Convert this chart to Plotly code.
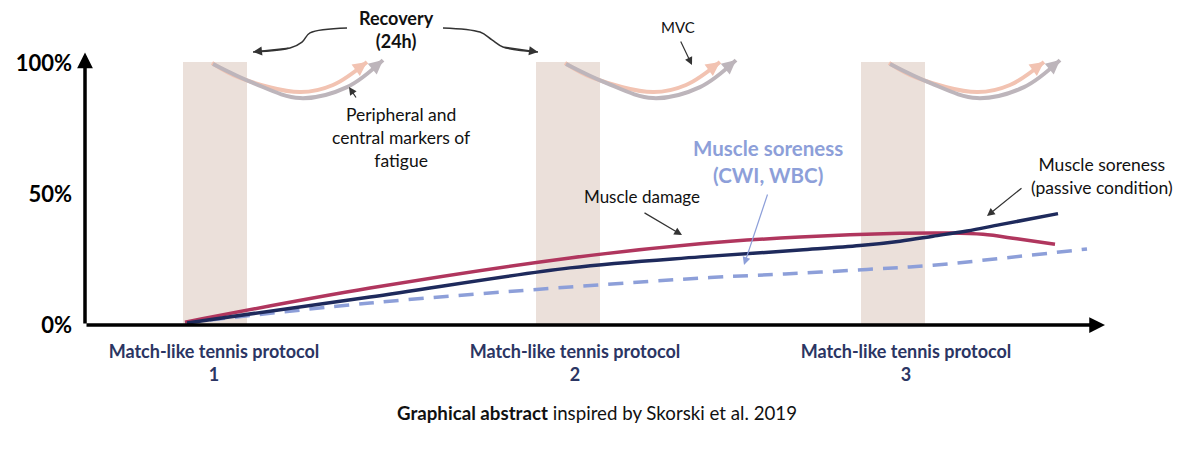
import plotly.graph_objects as go

# ---------------- data (x in time units along the protocol, y in % of baseline) -------------
damage_x = [100, 285, 485, 615, 715, 815, 865, 898, 932, 970]
damage_y = [1.1, 14.1, 25.6, 31.0, 33.6, 35.0, 35.1, 34.6, 32.9, 30.8]

passive_x = [102, 285, 485, 615, 715, 775, 815, 848, 882, 915, 973]
passive_y = [0.8, 10.7, 21.8, 26.0, 28.6, 30.3, 32.0, 33.9, 35.9, 38.3, 42.5]

cwi_x = [100, 285, 485, 625, 700, 782, 848, 915, 1002]
cwi_y = [0.8, 8.4, 14.5, 18.1, 19.5, 21.2, 22.8, 25.4, 29.0]

# shaded protocol sessions
session_x = [130, 483, 807.5]
session_h = [100.4, 100.4, 100.4]
session_w = 64
session_left = [98, 451, 775]

# MVC / fatigue recovery curves (offset from session start, %)
fatigue_dx = [29, 57, 117, 150, 184]
fatigue_y = [100, 94.3, 88.9, 91.6, 100.4]
mvc_dx = [30, 70, 117, 164, 200]
mvc_y = [99.6, 92.4, 86.6, 90.8, 101.1]

# "Recovery (24h)" squiggle arrows
rec_left_x = [262, 225, 217, 205, 168]
rec_left_y = [113.4, 111.5, 108.0, 105.7, 104.2]
rec_right_x = [358, 395, 407, 418, 453]
rec_right_y = [113.4, 111.8, 108.8, 106.1, 104.2]

protocol_ticks = [129, 490, 821]
protocol_labels = ["Match-like tennis protocol<br>1",
                   "Match-like tennis protocol<br>2",
                   "Match-like tennis protocol<br>3"]
y_ticks = [0, 50, 100]
y_labels = ["0%", "50%", "100%"]

FONT = "Lato"
RED = "#b0365e"
NAVY = "#1e2a5c"
LBLUE = "#8d9fd9"
SALMON = "#f2c3b2"
GREY = "#bdb5bb"
BEIGE = "#ebe0da"
TXT = "#111111"

fig = go.Figure()

fig.add_trace(go.Bar(x=session_x, y=session_h, width=session_w,
                     marker=dict(color=BEIGE, line=dict(width=0)), hoverinfo="skip"))

for left in session_left:
    fig.add_trace(go.Scatter(x=[left + d for d in fatigue_dx], y=fatigue_y, mode="lines",
                             line=dict(color=SALMON, width=4, shape="spline"), hoverinfo="skip"))
    fig.add_trace(go.Scatter(x=[left + d for d in mvc_dx], y=mvc_y, mode="lines",
                             line=dict(color=GREY, width=4, shape="spline"), hoverinfo="skip"))

fig.add_trace(go.Scatter(x=rec_left_x, y=rec_left_y, mode="lines",
                         line=dict(color="#333", width=1.5, shape="spline"), hoverinfo="skip"))
fig.add_trace(go.Scatter(x=rec_right_x, y=rec_right_y, mode="lines",
                         line=dict(color="#333", width=1.5, shape="spline"), hoverinfo="skip"))

fig.add_trace(go.Scatter(x=cwi_x, y=cwi_y, mode="lines",
                         line=dict(color=LBLUE, width=3.5, dash="15px,10px", shape="spline")))
fig.add_trace(go.Scatter(x=damage_x, y=damage_y, mode="lines",
                         line=dict(color=RED, width=3.5, shape="spline")))
fig.add_trace(go.Scatter(x=passive_x, y=passive_y, mode="lines",
                         line=dict(color=NAVY, width=3.5, shape="spline")))

ann = []
# axes arrows
ann.append(dict(x=0, y=104, ax=0, ay=0, xref="x", yref="y", axref="x", ayref="y",
                showarrow=True, arrowhead=2, arrowsize=0.9, arrowwidth=3.5, arrowcolor="black", text=""))
ann.append(dict(x=1020, y=0, ax=0, ay=0, xref="x", yref="y", axref="x", ayref="y",
                showarrow=True, arrowhead=2, arrowsize=0.9, arrowwidth=3.5, arrowcolor="black", text=""))
# arrowheads for MVC curves
for left in session_left:
    ann.append(dict(x=left + fatigue_dx[-1], y=fatigue_y[-1], ax=left + fatigue_dx[-1] - 10, ay=fatigue_y[-1] - 2.8,
                    xref="x", yref="y", axref="x", ayref="y", showarrow=True, arrowhead=2,
                    arrowsize=0.7, arrowwidth=4, arrowcolor=SALMON, text=""))
    ann.append(dict(x=left + mvc_dx[-1], y=mvc_y[-1], ax=left + mvc_dx[-1] - 10, ay=mvc_y[-1] - 3.2,
                    xref="x", yref="y", axref="x", ayref="y", showarrow=True, arrowhead=2,
                    arrowsize=0.7, arrowwidth=4, arrowcolor=GREY, text=""))
# recovery arrowheads
ann.append(dict(x=rec_left_x[-1], y=rec_left_y[-1], ax=rec_left_x[-2], ay=rec_left_y[-2],
                xref="x", yref="y", axref="x", ayref="y", showarrow=True, arrowhead=2,
                arrowsize=1.2, arrowwidth=1.5, arrowcolor="#333", text=""))
ann.append(dict(x=rec_right_x[-1], y=rec_right_y[-1], ax=rec_right_x[-2], ay=rec_right_y[-2],
                xref="x", yref="y", axref="x", ayref="y", showarrow=True, arrowhead=2,
                arrowsize=1.2, arrowwidth=1.5, arrowcolor="#333", text=""))

# page body has an 8px margin, so the figure is drawn 8px smaller and everything shifted
OFF = 8
W, H = 1200 - OFF, 450 - OFF
PL, PR, PT, PB = 85 - OFF, 1105 - OFF, 0, 325 - OFF   # plot area in figure pixels
PW, PH = PR - PL, PB - PT
YTOP = (325 - OFF) / 2.62


def text_ann(xp, yp, text, size=16, color=TXT, bold=False):
    t = f"<b>{text}</b>" if bold else text
    ann.append(dict(x=(xp - 85) / PW, y=(325 - yp) / PH, xref="paper", yref="paper", text=t,
                    showarrow=False, font=dict(family=FONT, size=size, color=color),
                    xanchor="center", yanchor="middle"))


def px(xp, yp):
    return xp - 85, (325 - yp) / 2.62


def arrow_ann(x0p, y0p, x1p, y1p, color="#333", width=1.2, size=1.3):
    x0, y0 = px(x0p, y0p)
    x1, y1 = px(x1p, y1p)
    ann.append(dict(x=x1, y=y1, ax=x0, ay=y0, xref="x", yref="y", axref="x", ayref="y",
                    text="", showarrow=True, arrowhead=2, arrowsize=size, arrowwidth=width,
                    arrowcolor=color))


text_ann(396, 29, "Recovery<br>(24h)", size=18, bold=True)
text_ann(678, 27, "MVC", size=15)
arrow_ann(680, 40, 692, 65)
text_ann(401, 137, "Peripheral and<br>central markers of<br>fatigue", size=17.5)
arrow_ann(357, 99, 349, 87)
text_ann(642, 196, "Muscle damage", size=17)
arrow_ann(643, 212, 682, 235)
text_ann(768, 161, "Muscle soreness<br>(CWI, WBC)", size=20.5, color=LBLUE, bold=True)
arrow_ann(768, 193, 744, 265, color=LBLUE, width=1.2)
text_ann(1102, 176, "Muscle soreness<br>(passive condition)", size=17.5)
arrow_ann(1023, 187, 987, 216)
text_ann(597, 413, "<b>Graphical abstract</b> inspired by Skorski et al. 2019", size=18.7)

fig.update_layout(
    width=W, height=H,
    margin=dict(l=PL, r=W - PR, t=PT, b=H - PB, autoexpand=False),
    paper_bgcolor="white", plot_bgcolor="white",
    showlegend=False, bargap=0,
    annotations=ann,
    xaxis=dict(range=[0, 1020], showgrid=False, zeroline=False, showline=False, automargin=False,
               tickvals=protocol_ticks, ticktext=[f"<b>{t}</b>" for t in protocol_labels], ticks="",
               tickfont=dict(family=FONT, size=18, color="#2b3563"),
               ticklabelstandoff=14),
    yaxis=dict(range=[0, YTOP], showgrid=False, zeroline=False, showline=False, automargin=False,
               tickvals=y_ticks, ticktext=[f"<b>{t}</b>" for t in y_labels], ticks="",
               tickfont=dict(family=FONT, size=22, color="black"),
               ticklabelstandoff=12),
)

fig.write_html("out.html")
